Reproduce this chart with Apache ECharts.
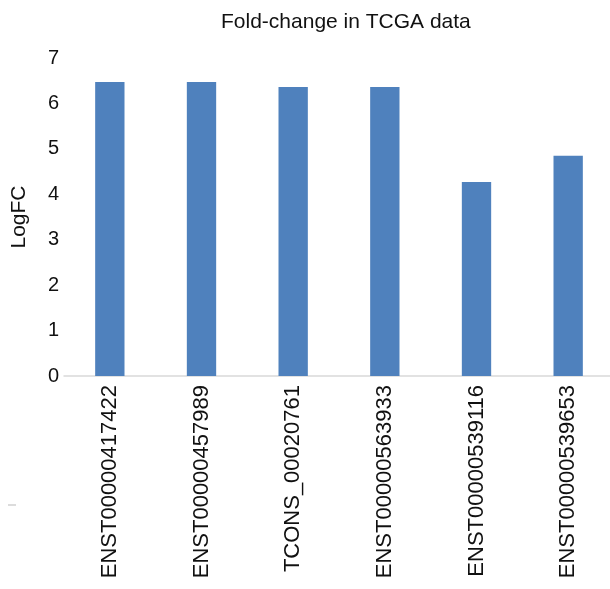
<!DOCTYPE html>
<html>
<head>
<meta charset="utf-8">
<script src="https://cdn.jsdelivr.net/npm/echarts@6/dist/echarts.min.js"></script>
<style>
  html, body { margin: 0; padding: 0; background: #fff; }
  #chart { width: 610px; height: 589px; }
</style>
</head>
<body>
<div id="chart"></div>
<script>
// 数据
const transcripts = ['ENST00000417422', 'ENST00000457989', 'TCONS_00020761', 'ENST00000563933', 'ENST00000539116', 'ENST00000539653']
const logFC = [6.47, 6.47, 6.36, 6.36, 4.27, 4.85]
const yTicks = [0, 7, 1]  // min, max, interval

const font = 'Liberation Sans, Arial, Helvetica, sans-serif'

const myChart = echarts.init(document.getElementById('chart'))

const option = {
  animation: false,
  title: {
    text: 'Fold-change in TCGA data',
    left: 216,
    top: 7,
    textStyle: { fontFamily: font, fontSize: 21, fontWeight: 'normal', color: '#111' }
  },
  // 不让 v6 自动收缩网格
  grid: {
    left: 64,
    right: -4,
    top: 58,
    bottom: 213,
    outerBoundsMode: 'none'
  },
  xAxis: {
    type: 'category',
    data: transcripts,
    axisLine: { lineStyle: { color: '#d9d9d9', width: 1.5 } },
    axisTick: { show: false },
    axisLabel: {
      rotate: 90,
      margin: 9,
      interval: 0,
      fontFamily: font,
      fontSize: 22,
      color: '#111'
    }
  },
  yAxis: {
    type: 'value',
    min: yTicks[0],
    max: yTicks[1],
    interval: yTicks[2],
    name: 'LogFC',
    nameLocation: 'middle',
    nameGap: 34,
    nameTextStyle: { fontFamily: font, fontSize: 21, color: '#111' },
    axisLine: { show: false },
    axisTick: { show: false },
    splitLine: { show: false },
    axisLabel: { margin: 5, fontFamily: font, fontSize: 20, color: '#111' }
  },
  series: [{
    type: 'bar',
    data: logFC,
    barWidth: '32%',
    itemStyle: { color: '#4f81bd' }
  }],
  // 左下角的小灰线
  graphic: [{
    type: 'rect',
    left: 8,
    top: 504,
    shape: { width: 8, height: 2 },
    style: { fill: '#dcdcdc' }
  }]
}

myChart.setOption(option)
</script>
</body>
</html>
